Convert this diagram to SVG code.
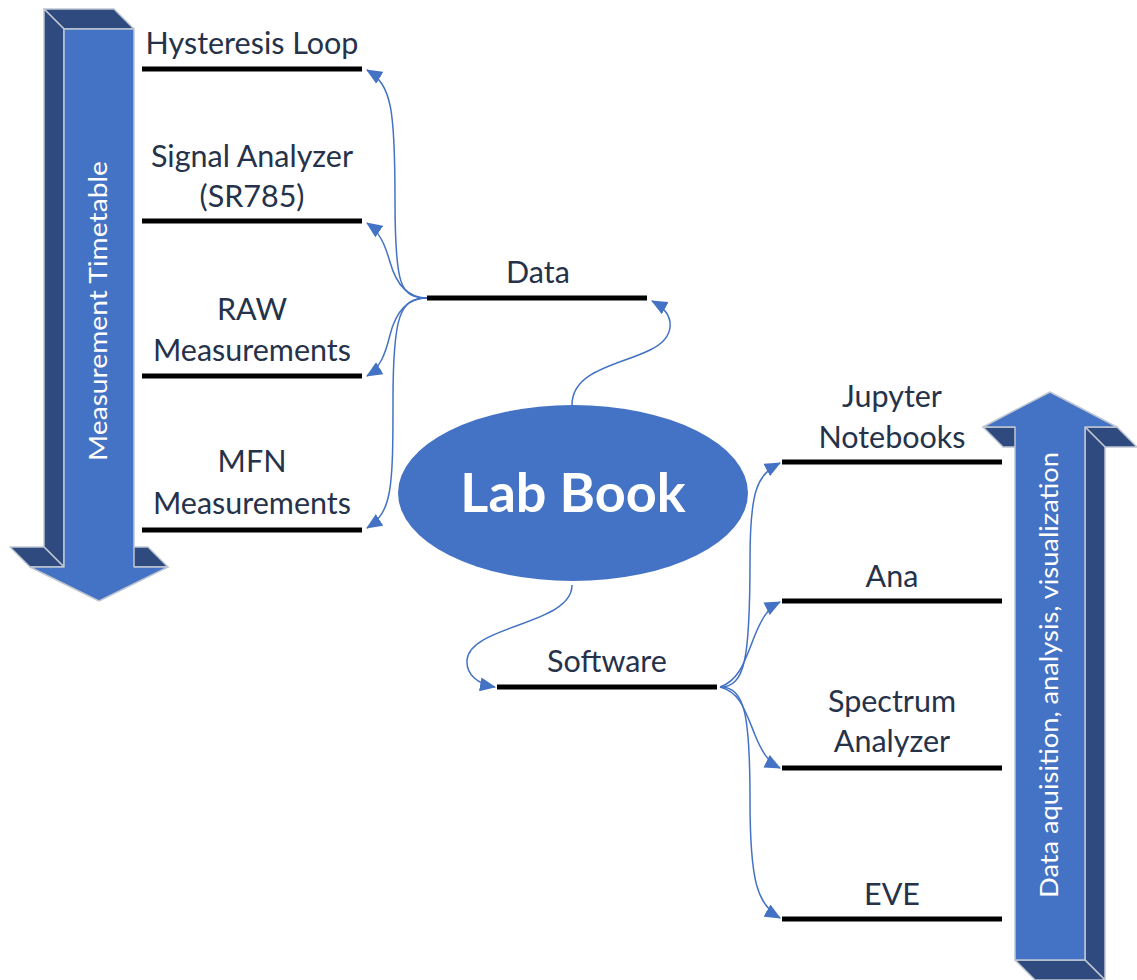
<svg xmlns="http://www.w3.org/2000/svg" width="1137" height="980" viewBox="0 0 1137 980">
<defs>
<style>
.lbl{font-family:Lato,"Open Sans","Liberation Sans",sans-serif;font-size:30.5px;fill:#25324a;text-anchor:middle}
.ul{stroke:#000;stroke-width:5;fill:none}
.con{stroke:#4472C4;stroke-width:1.5;fill:none;marker-end:url(#ah)}
.front{fill:#4472C4;stroke:#bfc6d2;stroke-width:1.5;stroke-linejoin:round}
.dark{fill:#2F4A7E;stroke:#bfc6d2;stroke-width:1.5;stroke-linejoin:round}
.arrtxt{font-family:Lato,"Open Sans","Liberation Sans",sans-serif;font-size:25px;fill:#fff;text-anchor:middle}
</style>
<marker id="ah" markerUnits="userSpaceOnUse" markerWidth="16" markerHeight="14" refX="15" refY="7" orient="auto">
<path d="M0,0 L16,7 L0,14 Z" fill="#4472C4"/>
</marker>
</defs>
<rect width="1137" height="980" fill="#fff"/>

<g id="timetable-arrow">
<polygon class="dark" points="44,9 114,9 134,29 64,29"/>
<polygon class="dark" points="44,9 64,29 64,567 44,547"/>
<polygon class="dark" points="10,547 44,547 64,567 30,567"/>
<polygon class="dark" points="114,547 148,547 168,567 134,567"/>
<polygon class="front" points="64,29 134,29 134,567 168,567 99,601 30,567 64,567"/>
<text class="arrtxt" transform="translate(107,311) rotate(-90)" textLength="300" lengthAdjust="spacingAndGlyphs">Measurement Timetable</text>
</g>

<g id="analysis-arrow">
<polygon class="dark" points="983,427 1015,427 1035,447 1003,447"/>
<polygon class="dark" points="1085,427 1117,427 1137,447 1105,447"/>
<polygon class="dark" points="1085,427 1105,447 1105,980 1085,960"/>
<polygon class="dark" points="1015,960 1085,960 1105,980 1035,980"/>
<polygon class="front" points="1050,392 1117,427 1085,427 1085,960 1015,960 1015,427 983,427"/>
<text class="arrtxt" transform="translate(1058,675) rotate(-90)" textLength="446" lengthAdjust="spacingAndGlyphs">Data aquisition, analysis, visualization</text>
</g>

<g id="connectors">
<path class="con" d="M427,298 C400,298 395,285 395,200 C395,110 392,85 367,70"/>
<path class="con" d="M427,298 C405,298 395,280 390,262 C385,245 380,232 367,223"/>
<path class="con" d="M427,298 C405,298 395,315 390,335 C385,355 380,368 367,376"/>
<path class="con" d="M427,298 C400,298 393,315 393,400 C393,490 392,512 367,528"/>
<path class="con" d="M572,405 C572,370 620,365 650,350 C675,338 678,315 652,301"/>
<path class="con" d="M572,585 C572,625 470,625 467,660 C466,675 478,684 495,687"/>
<path class="con" d="M720,687 C745,687 750,660 750,560 C750,490 757,475 780,463"/>
<path class="con" d="M720,687 C740,680 745,660 755,635 C762,618 768,608 780,602"/>
<path class="con" d="M720,687 C740,692 745,710 755,735 C762,752 768,762 780,768"/>
<path class="con" d="M720,687 C745,687 750,715 750,800 C750,880 757,905 780,918"/>
</g>

<g id="lab-book">
<ellipse cx="573" cy="493" rx="175" ry="88" fill="#4472C4"/>
<text x="573" y="512" font-family="Lato,'Open Sans','Liberation Sans',sans-serif" font-size="54" font-weight="bold" fill="#fff" text-anchor="middle">Lab Book</text>
</g>

<g id="hysteresis-loop">
<text class="lbl" x="252" y="54">Hysteresis Loop</text>
<line class="ul" x1="142" y1="69" x2="362" y2="69"/>
</g>
<g id="signal-analyzer">
<text class="lbl" x="252" y="167">Signal Analyzer</text>
<text class="lbl" x="252" y="207">(SR785)</text>
<line class="ul" x1="142" y1="221" x2="362" y2="221"/>
</g>
<g id="raw-measurements">
<text class="lbl" x="252" y="320">RAW</text>
<text class="lbl" x="252" y="361">Measurements</text>
<line class="ul" x1="142" y1="376" x2="362" y2="376"/>
</g>
<g id="mfn-measurements">
<text class="lbl" x="252" y="472">MFN</text>
<text class="lbl" x="252" y="514">Measurements</text>
<line class="ul" x1="142" y1="530" x2="362" y2="530"/>
</g>
<g id="data">
<text class="lbl" x="538" y="283">Data</text>
<line class="ul" x1="427" y1="298" x2="647" y2="298"/>
</g>
<g id="software">
<text class="lbl" x="607" y="672">Software</text>
<line class="ul" x1="497" y1="687" x2="717" y2="687"/>
</g>
<g id="jupyter-notebooks">
<text class="lbl" x="892" y="407">Jupyter</text>
<text class="lbl" x="892" y="448">Notebooks</text>
<line class="ul" x1="782" y1="462" x2="1002" y2="462"/>
</g>
<g id="ana">
<text class="lbl" x="892" y="587">Ana</text>
<line class="ul" x1="782" y1="601" x2="1002" y2="601"/>
</g>
<g id="spectrum-analyzer">
<text class="lbl" x="892" y="712">Spectrum</text>
<text class="lbl" x="892" y="752">Analyzer</text>
<line class="ul" x1="782" y1="768" x2="1002" y2="768"/>
</g>
<g id="eve">
<text class="lbl" x="892" y="905">EVE</text>
<line class="ul" x1="782" y1="919" x2="1002" y2="919"/>
</g>
</svg>
